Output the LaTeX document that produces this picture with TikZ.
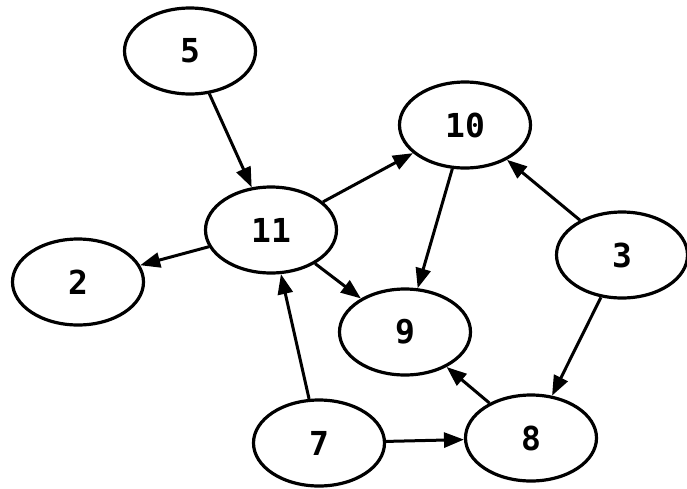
\documentclass[tikz,border=0pt]{standalone}
\usepackage{fontspec}
\setmonofont{DejaVu Sans Mono}
\usetikzlibrary{shapes.geometric,arrows.meta}

\begin{document}
\begin{tikzpicture}[x=1pt,y=-1pt,
    vertex/.style={draw,ellipse,line width=3.2pt,minimum width=131pt,minimum height=86pt,
                   font=\ttfamily\bfseries\fontsize{33}{36}\selectfont},
    edge/.style={line width=3pt,-{Triangle[length=20pt,width=15pt]}}]
    \useasboundingbox (0,0) rectangle (687,488);
    % vertices
    \node[vertex] (n5)  at (190,51)  {5};
    \node[vertex] (n10) at (465,125) {10};
    \node[vertex] (n11) at (271,230) {11};
    \node[vertex] (n2)  at (78,282)  {2};
    \node[vertex] (n3)  at (622,255) {3};
    \node[vertex] (n9)  at (405,332) {9};
    \node[vertex] (n7)  at (319,443) {7};
    \node[vertex] (n8)  at (531,438) {8};
    % arcs
    \draw[edge] (n5) -- (n11);
    \draw[edge] (n11) -- (n10);
    \draw[edge] (n11) -- (n2);
    \draw[edge] (n11) -- (n9);
    \draw[edge] (n10) -- (n9);
    \draw[edge] (n3) -- (n10);
    \draw[edge] (n3) -- (n8);
    \draw[edge] (n8) -- (n9);
    \draw[edge] (n7) -- (n11);
    \draw[edge] (n7) -- (n8);
\end{tikzpicture}
\end{document}
